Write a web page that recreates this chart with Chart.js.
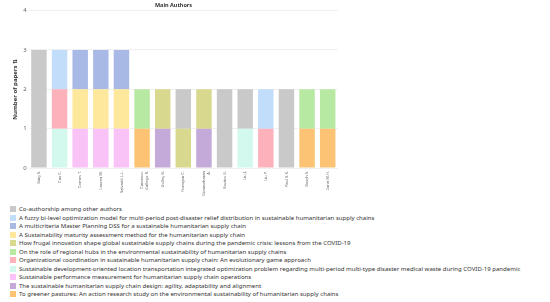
<!DOCTYPE html>
<html>
<head>
<meta charset="utf-8">
<script src="https://cdn.jsdelivr.net/npm/chart.js@4.4.0/dist/chart.umd.min.js"></script>
<style>
body{margin:0;background:#fff;width:550px;height:302px;overflow:hidden;font-family:"Noto Sans",sans-serif}
#wrap{position:absolute;left:0;top:0;width:368px;height:199px}
#legend{position:absolute;left:10px;top:205px;font-size:6.05px;color:#333}
.item{display:flex;align-items:center;height:8.5px;white-space:nowrap}
.box{width:6px;height:6px;margin-right:3px;flex:none}
</style>
</head>
<body>
<div id="wrap"><canvas id="authors"></canvas></div>
<div id="legend"></div>
<script>
// authors on the x axis
const authors = ["Baig S.", "Cao C.", "Comes T.", "Laurea M.", "Salvadó L.L.", ["Carrasco-", "Gallego R."],
  "Gulley B.", "Forrojon C.", ["Gunasekaran", "A."], "Kovács G.", "Liu J.", "Liu Y.", "Paul S.K.", "Bosch S.", "Zarei M.H."];

// papers, in legend order
const papers = [
  "Co-authorship among other authors",
  "A fuzzy bi-level optimization model for multi-period post-disaster relief distribution in sustainable humanitarian supply chains",
  "A multicriteria Master Planning DSS for a sustainable humanitarian supply chain",
  "A Sustainability maturity assessment method for the humanitarian supply chain",
  "How frugal innovation shape global sustainable supply chains during the pandemic crisis: lessons from the COVID-19",
  "On the role of regional hubs in the environmental sustainability of humanitarian supply chains",
  "Organizational coordination in sustainable humanitarian supply chain: An evolutionary game approach",
  "Sustainable development-oriented location transportation integrated optimization problem regarding multi-period multi-type disaster medical waste during COVID-19 pandemic",
  "Sustainable performance measurement for humanitarian supply chain operations",
  "The sustainable humanitarian supply chain design: agility, adaptability and alignment",
  "To greener pastures: An action research study on the environmental sustainability of humanitarian supply chains"
];

const paperColors = ["#c9c9c9", "#c2ddfa", "#a9b9e6", "#fde89c", "#d8d98e", "#b7e9a3",
  "#fdb1ba", "#d3f9ef", "#f9c3f8", "#c3aad8", "#fcc374"];

// number of papers per author, one array per paper (same order as papers)
const coAuthorship   = [3, 0, 0, 0, 0, 0, 0, 1, 0, 2, 1, 0, 2, 0, 0];
const fuzzyBiLevel   = [0, 1, 0, 0, 0, 0, 0, 0, 0, 0, 0, 1, 0, 0, 0];
const masterPlanning = [0, 0, 1, 1, 1, 0, 0, 0, 0, 0, 0, 0, 0, 0, 0];
const maturity       = [0, 0, 1, 1, 1, 0, 0, 0, 0, 0, 0, 0, 0, 0, 0];
const frugal         = [0, 0, 0, 0, 0, 0, 1, 1, 1, 0, 0, 0, 0, 0, 0];
const regionalHubs   = [0, 0, 0, 0, 0, 1, 0, 0, 0, 0, 0, 0, 0, 1, 1];
const coordination   = [0, 1, 0, 0, 0, 0, 0, 0, 0, 0, 0, 1, 0, 0, 0];
const medicalWaste   = [0, 1, 0, 0, 0, 0, 0, 0, 0, 0, 1, 0, 0, 0, 0];
const performance    = [0, 0, 1, 1, 1, 0, 0, 0, 0, 0, 0, 0, 0, 0, 0];
const scDesign       = [0, 0, 0, 0, 0, 0, 1, 0, 1, 0, 0, 0, 0, 0, 0];
const greener        = [0, 0, 0, 0, 0, 1, 0, 0, 0, 0, 0, 0, 0, 1, 1];

const paperValues = [coAuthorship, fuzzyBiLevel, masterPlanning, maturity, frugal, regionalHubs,
  coordination, medicalWaste, performance, scDesign, greener];

const yTicks = [0, 1, 2, 3, 4];

// last paper sits at the bottom of each stack, so build datasets in reverse
let datasets = [];
for (let i = papers.length - 1; i >= 0; i--) {
  datasets.push({
    label: papers[i],
    data: paperValues[i],
    backgroundColor: paperColors[i],
    borderWidth: 0,
    barPercentage: 0.75,
    categoryPercentage: 1
  });
}

new Chart(document.getElementById("authors"), {
  type: "bar",
  data: { labels: authors, datasets: datasets },
  options: {
    responsive: true,
    maintainAspectRatio: false,
    animation: false,
    layout: { padding: { left: 9, right: 30, top: 0, bottom: 0 } },
    plugins: {
      legend: { display: false },
      tooltip: { enabled: false },
      title: {
        display: true,
        text: "Main Authors",
        color: "#333",
        font: { family: "Noto Sans", size: 5.5, weight: "bold" },
        padding: { top: 2, bottom: 2 }
      }
    },
    scales: {
      x: {
        stacked: true,
        grid: { display: false, drawTicks: false },
        border: { display: false },
        ticks: {
          autoSkip: false,
          maxRotation: 90,
          minRotation: 90,
          color: "#666",
          padding: 3,
          font: { family: "Noto Sans", size: 4 }
        }
      },
      y: {
        stacked: true,
        min: yTicks[0],
        max: yTicks[yTicks.length - 1],
        afterBuildTicks: function (axis) {
          axis.ticks = yTicks.map(v => ({ value: v }));
        },
        grid: { color: "#f0f0f0", drawTicks: false },
        border: { display: false },
        ticks: { color: "#666", padding: 2, font: { family: "Noto Sans", size: 6 } },
        title: {
          display: true,
          text: "Number of papers \u21C5",
          color: "#333",
          padding: 2.5,
          font: { family: "Noto Sans", size: 6, weight: "bold" }
        }
      }
    }
  }
});

// legend, one paper per row
let legendBox = document.getElementById("legend");
papers.forEach(function (p, i) {
  let row = document.createElement("div");
  row.className = "item";
  let sw = document.createElement("span");
  sw.className = "box";
  sw.style.background = paperColors[i];
  let txt = document.createElement("span");
  txt.textContent = p;
  row.appendChild(sw);
  row.appendChild(txt);
  legendBox.appendChild(row);
});
</script>
</body>
</html>
